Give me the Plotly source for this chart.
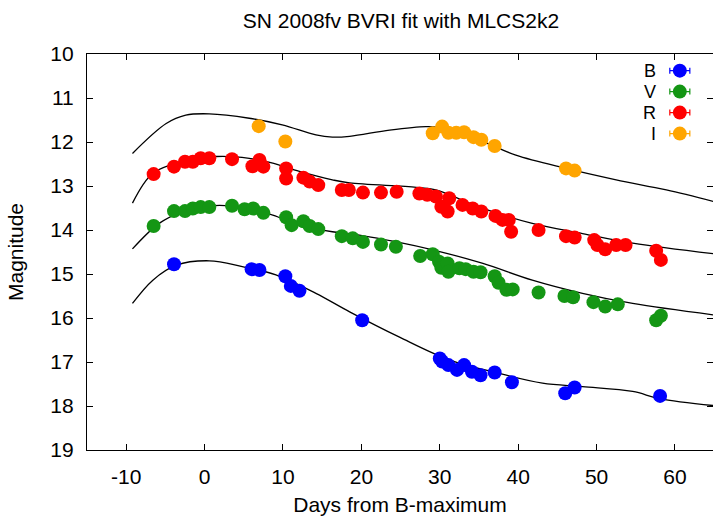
import plotly.graph_objects as go

# ---- data points (days from B max, magnitude) ----
B_days = [-3.9, 6.0, 7.0, 10.3, 11.0, 12.1, 20.1, 30.0, 30.3, 31.1, 32.2, 33.1, 34.1, 35.2, 37.0, 39.2, 46.0, 47.2, 58.1]
B_mag = [14.78, 14.89, 14.91, 15.05, 15.27, 15.38, 16.05, 16.92, 16.99, 17.07, 17.18, 17.07, 17.22, 17.30, 17.24, 17.46, 17.71, 17.58, 17.77]

V_days = [-6.5, -3.9, -2.5, -1.5, -0.5, 0.6, 3.5, 5.1, 6.2, 7.5, 10.4, 11.1, 12.6, 13.4, 14.5, 17.5, 18.9, 20.2, 22.5, 24.4,
          27.5, 29.1, 29.9, 30.2, 31.0, 31.1, 32.5, 33.3, 34.3, 35.2, 37.0, 37.5, 38.5, 39.3, 42.6, 45.9, 47.0, 49.6, 51.1, 52.7, 57.6, 58.2]
V_mag = [13.91, 13.57, 13.57, 13.51, 13.48, 13.48, 13.45, 13.53, 13.51, 13.61, 13.71, 13.89, 13.80, 13.91, 13.98, 14.14, 14.19, 14.27, 14.33, 14.38,
         14.59, 14.55, 14.72, 14.86, 14.76, 14.95, 14.87, 14.89, 14.95, 14.96, 15.05, 15.20, 15.36, 15.35, 15.42, 15.50, 15.53, 15.64, 15.74, 15.69, 16.05, 15.95]

R_days = [-6.5, -3.9, -2.5, -1.5, -0.5, 0.6, 3.5, 6.1, 7.0, 7.5, 10.4, 10.4, 12.6, 13.4, 14.5, 17.5, 18.4, 20.2, 22.5, 24.5,
          27.4, 28.4, 29.5, 30.2, 31.0, 31.2, 32.9, 34.2, 35.3, 37.1, 38.0, 38.8, 39.1, 42.6, 46.1, 47.2, 49.7, 50.1, 51.1, 52.5, 53.7, 57.6, 58.2]
R_mag = [12.73, 12.56, 12.45, 12.45, 12.37, 12.37, 12.39, 12.55, 12.41, 12.56, 12.60, 12.83, 12.81, 12.90, 12.98, 13.09, 13.09, 13.15, 13.15, 13.13,
         13.17, 13.20, 13.24, 13.47, 13.58, 13.28, 13.43, 13.51, 13.58, 13.68, 13.77, 13.77, 14.04, 14.00, 14.14, 14.17, 14.23, 14.34, 14.44, 14.34, 14.34, 14.47, 14.68]

I_days = [6.9, 10.3, 29.1, 30.3, 31.1, 32.1, 33.1, 34.3, 35.3, 37.0, 46.1, 47.2]
I_mag = [11.64, 11.99, 11.80, 11.65, 11.79, 11.79, 11.78, 11.89, 11.95, 12.09, 12.60, 12.65]

# ---- MLCS2k2 fit curves ----
I_fit_days = [-9.2, -4.9, -2.4, 0.6, 5.7, 9.9, 14.2, 16.3, 18.5, 23.6, 28.2, 29.9, 35.5, 39.7, 46.1, 52.5, 58.9, 64.9]
I_fit_mag = [12.26, 11.58, 11.39, 11.36, 11.46, 11.61, 11.84, 11.89, 11.87, 11.73, 11.65, 11.67, 11.99, 12.30, 12.60, 12.86, 13.09, 13.35]

R_fit_days = [-9.2, -6.6, -2.8, 1.5, 5.7, 8.7, 12.1, 16.3, 18.5, 27.0, 29.5, 35.5, 41.8, 48.2, 54.6, 64.9]
R_fit_mag = [13.39, 12.71, 12.45, 12.33, 12.37, 12.48, 12.67, 12.86, 12.93, 13.03, 13.09, 13.51, 13.85, 14.08, 14.30, 14.54]

V_fit_days = [-9.2, -5.8, -2.8, 0.6, 4.8, 8.7, 12.1, 16.3, 18.5, 24.8, 29.1, 35.5, 41.8, 48.2, 54.6, 64.9]
V_fit_mag = [14.43, 13.85, 13.58, 13.45, 13.48, 13.66, 13.89, 14.04, 14.08, 14.28, 14.45, 14.76, 15.14, 15.44, 15.67, 15.93]

B_fit_days = [-9.2, -6.6, -3.6, 0.6, 4.8, 9.1, 14.2, 18.5, 24.8, 31.2, 37.6, 43.1, 48.2, 54.6, 58.0, 64.9]
B_fit_mag = [15.67, 15.14, 14.80, 14.70, 14.83, 15.02, 15.44, 15.86, 16.43, 16.95, 17.26, 17.48, 17.56, 17.67, 17.83, 17.99]

band_names = ["B", "V", "R", "I"]
band_colors = ["#0000ff", "#149614", "#ff0000", "#ffa500"]
legend_y = [0.958, 0.905, 0.852, 0.799]

x_ticks = [-10, 0, 10, 20, 30, 40, 50, 60]
x_ticklabels = ["-10", "0", "10", "20", "30", "40", "50", "60"]
y_ticks = [10, 11, 12, 13, 14, 15, 16, 17, 18, 19]

FONT = "Liberation Sans, Arial, Helvetica, sans-serif"
FS = 21
LEG_FS = 18

fig = go.Figure()

for fd, fm in [(I_fit_days, I_fit_mag), (R_fit_days, R_fit_mag), (V_fit_days, V_fit_mag), (B_fit_days, B_fit_mag)]:
    fig.add_trace(go.Scatter(x=fd, y=fm, mode="lines", line=dict(color="black", width=1.3, shape="spline", smoothing=1.0),
                             showlegend=False, hoverinfo="skip"))

for name, col, d, m in zip(band_names, band_colors, [B_days, V_days, R_days, I_days], [B_mag, V_mag, R_mag, I_mag]):
    fig.add_trace(go.Scatter(x=d, y=m, mode="markers", name=name,
                             marker=dict(color=col, size=14, symbol="circle", line=dict(width=0)),
                             showlegend=False))

# manual legend (text left of symbol, gnuplot style)
for name, col, ly in zip(band_names, band_colors, legend_y):
    fig.add_trace(go.Scatter(x=[0.947], y=[ly], xaxis="x2", yaxis="y2", mode="markers",
                             marker=dict(color=col, size=14),
                             error_x=dict(type="constant", value=0.016, color=col, thickness=1.2, width=3),
                             showlegend=False, hoverinfo="skip"))
    fig.add_annotation(x=0.911, y=ly, xref="paper", yref="paper", text=name, showarrow=False,
                       xanchor="right", yanchor="middle", borderpad=0,
                       font=dict(size=LEG_FS, color="black", family=FONT))

fig.update_layout(
    width=713, height=521,
    margin=dict(l=87, r=0, t=54, b=71),
    paper_bgcolor="white", plot_bgcolor="white",
    font=dict(family=FONT, size=FS, color="black"),
    title=dict(text="SN 2008fv BVRI fit with MLCS2k2", x=(87 + 713 + 2) / 2 / 713, xanchor="center",
               y=1 - 21 / 521, yanchor="middle", font=dict(size=FS, family=FONT, color="black")),
    xaxis=dict(range=[-15, 64.85], tickvals=x_ticks, ticktext=x_ticklabels, ticks="inside", ticklen=6, tickcolor="black",
               showline=True, linecolor="black", linewidth=1.2, mirror="ticks", showgrid=False, zeroline=False,
               tickfont=dict(size=FS), ticklabelstandoff=8,
               title=dict(text="Days from B-maximum", font=dict(size=FS), standoff=10)),
    yaxis=dict(range=[19, 10], tickvals=y_ticks, ticks="inside", ticklen=6, tickcolor="black",
               showline=True, linecolor="black", linewidth=1.2, mirror="ticks", showgrid=False, zeroline=False,
               tickfont=dict(size=FS), ticklabelstandoff=8,
               title=dict(text="Magnitude", font=dict(size=FS), standoff=20)),
    xaxis2=dict(range=[0, 1], overlaying="x", visible=False, fixedrange=True),
    yaxis2=dict(range=[0, 1], overlaying="y", visible=False, fixedrange=True),
)

fig.write_html("out.html")
